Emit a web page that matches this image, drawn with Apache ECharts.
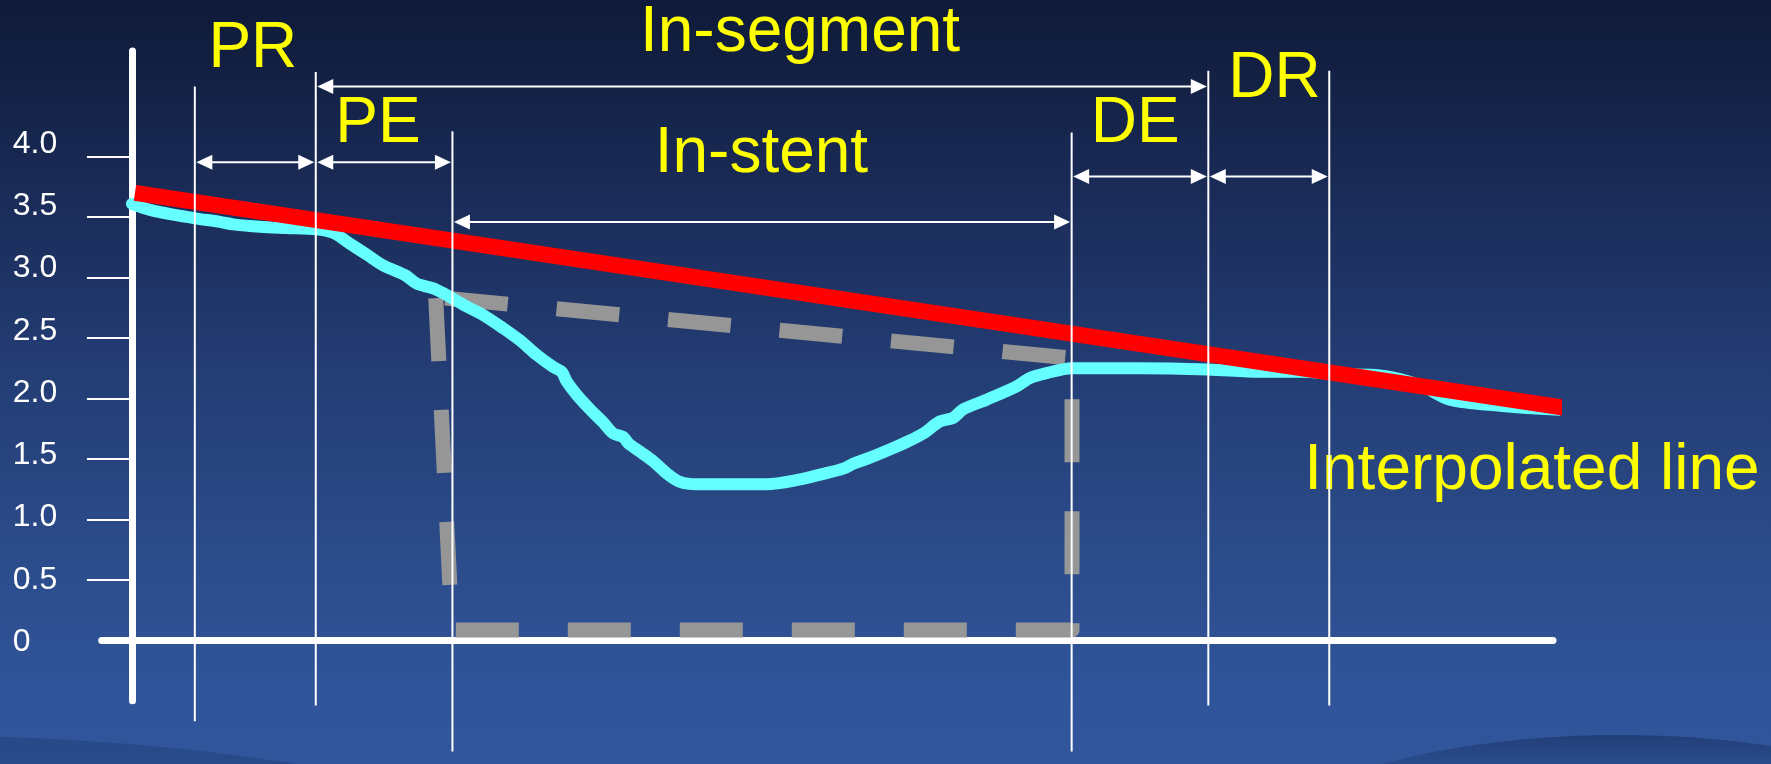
<!DOCTYPE html>
<html>
<head>
<meta charset="utf-8">
<script src="https://cdn.jsdelivr.net/npm/echarts@6/dist/echarts.min.js"></script>
<style>
  html, body { margin: 0; padding: 0; background: #1c305f; }
  #chart { width: 1771px; height: 764px; }
</style>
</head>
<body>
<div id="chart"></div>
<script>
// Position along the vessel (mm) and lumen diameter (mm) of the measured contour
const lumenPos = [0, 1.5, 3.42, 5.22, 7.28, 8.38, 10.59, 12.8, 15.22, 16.65, 18.03, 19.41, 20.79,
  22.58, 23.55, 24.92, 26.3, 27.68, 29.05, 30.71, 32.09, 33.47, 34.84, 35.54, 35.95, 36.78, 37.88,
  38.98, 39.8, 40.63, 41.04, 42.01, 43.11, 44.22, 45.32, 46.7, 48.62, 52.48, 55.24, 56.89, 58.82,
  59.64, 61.02, 62.95, 64.06, 65.43, 66.81, 67.91, 68.74, 70.67, 73.15, 74.25, 75.63, 77.73, 83.35,
  88.97, 93.27, 96.58, 99.88, 103.19, 106.5, 108.98, 113.11, 117.25, 120.56];
const lumenDiam = [3.61, 3.56, 3.52, 3.49, 3.46, 3.44, 3.42, 3.41, 3.40, 3.37, 3.28, 3.19, 3.10,
  3.02, 2.95, 2.91, 2.84, 2.76, 2.69, 2.58, 2.48, 2.36, 2.26, 2.22, 2.14, 2.03, 1.91,
  1.80, 1.71, 1.68, 1.63, 1.56, 1.48, 1.38, 1.31, 1.29, 1.29, 1.29, 1.33, 1.37, 1.42,
  1.46, 1.51, 1.59, 1.64, 1.71, 1.81, 1.84, 1.91, 1.99, 2.10, 2.17, 2.21, 2.25, 2.25,
  2.24, 2.22, 2.22, 2.20, 2.19, 2.11, 1.99, 1.94, 1.91, 1.90];

// Interpolated reference diameter line
const refPos = [0.25, 124.0];
const refDiam = [3.70, 1.84];

// Stent outline: left side, bottom and right side; then the top edge
const stentSidePos = [25.12, 26.47, 77.73, 77.73];
const stentSideDiam = [2.83, 0.085, 0.085, 2.336];
const stentTopPos = [25.89, 77.40];
const stentTopDiam = [2.83, 2.336];

// Segment boundaries (mm): PR start, PE start, stent start, stent end, DR start, DR end
const bounds = [5.2, 15.2, 26.5, 77.7, 89.0, 99.0];
const guideTop = [4.58, 4.70, 4.21, 4.20, 4.71, 4.71];
const guideBottom = [-0.67, -0.54, -0.92, -0.92, -0.54, -0.54];

// Span arrows: [from boundary index, to boundary index, height]
const spanFrom = [1, 0, 1, 2, 3, 4];
const spanTo = [4, 1, 2, 3, 4, 5];
const spanLevel = [4.58, 3.954, 3.954, 3.46, 3.835, 3.835];

// Region names and where they sit
const regionNames = ['PR', 'In-segment', 'PE', 'In-stent', 'DE', 'DR', 'Interpolated line'];
const regionPos = [10.0, 55.24, 20.35, 52.05, 82.96, 94.47, 115.76];
const regionLevel = [4.891, 5.017, 4.268, 4.022, 4.268, 4.641, 1.394];

// Y axis ticks and tick labels
const yTickValues = [0.5, 1.0, 1.5, 2.0, 2.5, 3.0, 3.5, 4.0];
const yLabelValues = [0, 0.5, 1.0, 1.5, 2.0, 2.5, 3.0, 3.5, 4.0];
const yTickLabels = ['0', '0.5', '1.0', '1.5', '2.0', '2.5', '3.0', '3.5', '4.0'];

const zip = (a, b) => a.map((v, i) => [v, b[i]]);

const chart = echarts.init(document.getElementById('chart'), null, { renderer: 'canvas' });

const FONT = '"Liberation Sans", Arial, sans-serif';

const option = {
  animation: false,
  backgroundColor: {
    type: 'linear', x: 0, y: 0, x2: 0, y2: 1,
    colorStops: [
      { offset: 0, color: '#0f1a38' },
      { offset: 0.25, color: '#1a2b57' },
      { offset: 0.5, color: '#243e76' },
      { offset: 0.75, color: '#2c4d8c' },
      { offset: 0.9, color: '#30549a' },
      { offset: 1, color: '#31569b' }
    ]
  },
  graphic: [
    {
      type: 'ellipse', z: -1, silent: true,
      shape: { cx: -100, cy: 900, rx: 700, ry: 165 },
      style: { fill: 'rgba(24,46,96,0.3)' }
    },
    {
      type: 'ellipse', z: -1, silent: true,
      shape: { cx: 1620, cy: 900, rx: 420, ry: 165 },
      style: {
        fill: new echarts.graphic.LinearGradient(0, 0, 0, 1, [
          { offset: 0, color: 'rgba(22,44,92,0.55)' },
          { offset: 0.12, color: 'rgba(30,58,112,0.25)' },
          { offset: 0.35, color: 'rgba(48,84,154,0)' }
        ])
      }
    }
  ],
  grid: {
    left: 101.7, right: 218, top: 51, bottom: 63.3,
    containLabel: false, outerBoundsMode: 'none'
  },
  xAxis: {
    type: 'value', min: -2.5, max: 117.5,
    axisLine: { show: true, onZero: true, onZeroAxisIndex: 0, lineStyle: { color: '#ffffff', width: 7 } },
    axisTick: { show: false },
    axisLabel: { show: false },
    splitLine: { show: false }
  },
  yAxis: [
    {
      type: 'value', position: 'left', min: -0.5, max: 4.874,
      axisLine: { show: true, onZero: true, onZeroAxisIndex: 0, lineStyle: { color: '#ffffff', width: 7 } },
      axisTick: { show: true, customValues: yTickValues, length: 45, lineStyle: { color: '#ffffff', width: 2 } },
      axisLabel: { show: false },
      splitLine: { show: false }
    },
    {
      type: 'value', position: 'left', offset: 0, min: -0.4715, max: 4.747,
      axisLine: { show: false, onZero: false },
      axisTick: { show: false },
      splitLine: { show: false },
      axisLabel: {
        show: true,
        customValues: yLabelValues,
        formatter: v => yTickLabels[Math.round(v / 0.5)],
        color: '#ffffff',
        fontSize: 32,
        fontFamily: FONT,
        align: 'left',
        margin: 89
      }
    }
  ],
  series: [
    {
      name: 'Stent outline',
      type: 'line',
      data: zip(stentSidePos, stentSideDiam),
      symbol: 'none',
      silent: true,
      z: 2,
      lineStyle: { color: '#969696', width: 15, type: [63, 49], cap: 'butt', join: 'round' }
    },
    {
      name: 'Stent top',
      type: 'line',
      data: zip(stentTopPos, stentTopDiam),
      symbol: 'none',
      silent: true,
      z: 2,
      lineStyle: { color: '#969696', width: 15, type: [63, 49], cap: 'butt' }
    },
    {
      name: 'Lumen diameter',
      type: 'line',
      data: zip(lumenPos, lumenDiam),
      symbol: 'none',
      smooth: 0.3,
      clip: false,
      silent: true,
      z: 3,
      lineStyle: { color: '#66ffff', width: 12, join: 'round', cap: 'round' }
    },
    {
      name: 'Interpolated line',
      type: 'line',
      data: zip(refPos, refDiam),
      symbol: 'none',
      clip: false,
      silent: true,
      z: 4,
      lineStyle: { color: '#ff0000', width: 16, cap: 'butt' }
    },
    {
      name: 'Region labels',
      type: 'scatter',
      data: regionNames.map((n, i) => ({ name: n, value: [regionPos[i], regionLevel[i]] })),
      symbol: 'circle',
      symbolSize: 1,
      itemStyle: { color: 'rgba(0,0,0,0)', opacity: 1 },
      clip: false,
      silent: true,
      z: 5,
      label: {
        show: true,
        position: 'inside',
        formatter: '{b}',
        color: '#ffff00',
        opacity: 1,
        fontSize: 64,
        fontFamily: FONT
      }
    },
    {
      name: 'Boundaries',
      type: 'custom',
      coordinateSystem: 'cartesian2d',
      data: bounds.map((b, i) => [b, guideTop[i], guideBottom[i]]),
      silent: true,
      z: 6,
      renderItem: (params, api) => {
        const p1 = api.coord([api.value(0), api.value(1)]);
        const p2 = api.coord([api.value(0), api.value(2)]);
        return {
          type: 'line',
          shape: { x1: p1[0], y1: p1[1], x2: p2[0], y2: p2[1] },
          style: { stroke: '#ffffff', lineWidth: 2 }
        };
      }
    },
    {
      name: 'Spans',
      type: 'custom',
      coordinateSystem: 'cartesian2d',
      data: spanFrom.map((f, i) => [bounds[f], bounds[spanTo[i]], spanLevel[i]]),
      silent: true,
      z: 7,
      renderItem: (params, api) => {
        const a = api.coord([api.value(0), api.value(2)]);
        const b = api.coord([api.value(1), api.value(2)]);
        const len = 16, half = 7.5, gap = 1.5;
        const ax = a[0] + gap, bx = b[0] - gap, y = a[1];
        return {
          type: 'group',
          children: [
            { type: 'line', shape: { x1: ax + 4, y1: y, x2: bx - 4, y2: y }, style: { stroke: '#ffffff', lineWidth: 2 } },
            { type: 'polygon', shape: { points: [[ax, y], [ax + len, y - half], [ax + len, y + half]] }, style: { fill: '#ffffff' } },
            { type: 'polygon', shape: { points: [[bx, y], [bx - len, y - half], [bx - len, y + half]] }, style: { fill: '#ffffff' } }
          ]
        };
      }
    }
  ]
};

chart.setOption(option);
</script>
</body>
</html>
